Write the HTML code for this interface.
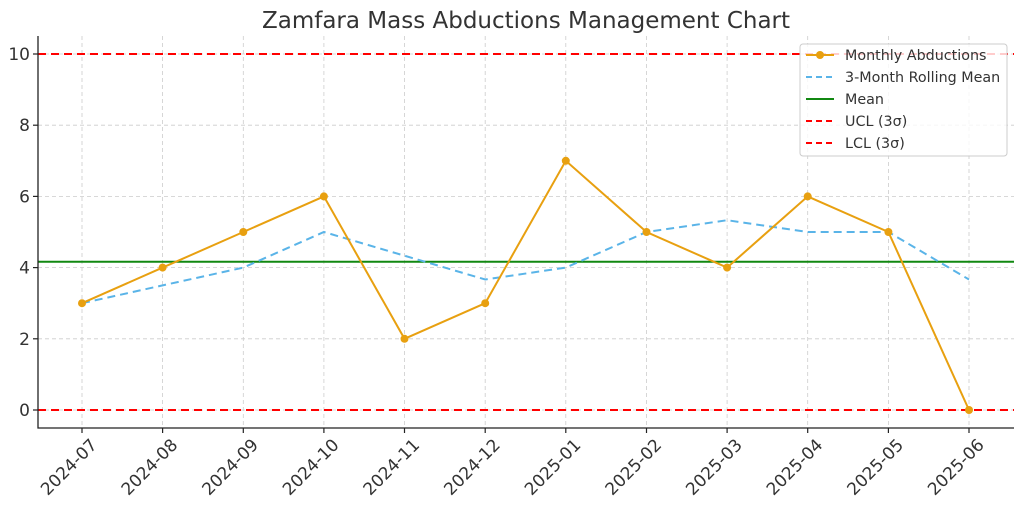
<!DOCTYPE html><html><head><style>body{margin:0;background:#fff}svg{display:block}</style></head><body>
<svg width="1024" height="507" xmlns="http://www.w3.org/2000/svg" font-family="'DejaVu Sans','Liberation Sans',sans-serif" fill="#333">
<text x="526" y="28" font-size="23" text-anchor="middle">Zamfara Mass Abductions Management Chart</text>
<g stroke="#ccc" stroke-width="0.8" stroke-dasharray="4,3">
<line x1="82" y1="36" x2="82" y2="428"/><line x1="162.6" y1="36" x2="162.6" y2="428"/><line x1="243.3" y1="36" x2="243.3" y2="428"/><line x1="323.9" y1="36" x2="323.9" y2="428"/><line x1="404.5" y1="36" x2="404.5" y2="428"/><line x1="485.2" y1="36" x2="485.2" y2="428"/><line x1="565.8" y1="36" x2="565.8" y2="428"/><line x1="646.5" y1="36" x2="646.5" y2="428"/><line x1="727.1" y1="36" x2="727.1" y2="428"/><line x1="807.7" y1="36" x2="807.7" y2="428"/><line x1="888.4" y1="36" x2="888.4" y2="428"/><line x1="969" y1="36" x2="969" y2="428"/>
<line x1="38" y1="410" x2="1014" y2="410"/><line x1="38" y1="338.8" x2="1014" y2="338.8"/><line x1="38" y1="267.6" x2="1014" y2="267.6"/><line x1="38" y1="196.4" x2="1014" y2="196.4"/><line x1="38" y1="125.2" x2="1014" y2="125.2"/><line x1="38" y1="54" x2="1014" y2="54"/>
</g>
<line x1="38" y1="261.7" x2="1014" y2="261.7" stroke="#118811" stroke-width="2"/>
<line x1="38" y1="54" x2="1014" y2="54" stroke="#f00" stroke-width="2" stroke-dasharray="8,5"/>
<line x1="38" y1="410" x2="1014" y2="410" stroke="#f00" stroke-width="2" stroke-dasharray="8,5"/>
<polyline fill="none" stroke="#5ab4e8" stroke-width="2" stroke-dasharray="8,5" points="82,303.2 162.6,285.4 243.3,267.6 323.9,232 404.5,255.7 485.2,279.5 565.8,267.6 646.5,232 727.1,220.2 807.7,232 888.4,232 969,279.5"/>
<polyline fill="none" stroke="#e8a010" stroke-width="2" points="82,303.2 162.6,267.6 243.3,232 323.9,196.4 404.5,338.8 485.2,303.2 565.8,160.8 646.5,232 727.1,267.6 807.7,196.4 888.4,232 969,410"/>
<g fill="#e8a010"><circle cx="82" cy="303.2" r="4"/><circle cx="162.6" cy="267.6" r="4"/><circle cx="243.3" cy="232" r="4"/><circle cx="323.9" cy="196.4" r="4"/><circle cx="404.5" cy="338.8" r="4"/><circle cx="485.2" cy="303.2" r="4"/><circle cx="565.8" cy="160.8" r="4"/><circle cx="646.5" cy="232" r="4"/><circle cx="727.1" cy="267.6" r="4"/><circle cx="807.7" cy="196.4" r="4"/><circle cx="888.4" cy="232" r="4"/><circle cx="969" cy="410" r="4"/></g>
<path d="M38,36 V428 H1014" fill="none" stroke="#222" stroke-width="1.3"/>
<g stroke="#222" stroke-width="1.2">
<line x1="33" y1="410" x2="38" y2="410"/><line x1="33" y1="338.8" x2="38" y2="338.8"/><line x1="33" y1="267.6" x2="38" y2="267.6"/><line x1="33" y1="196.4" x2="38" y2="196.4"/><line x1="33" y1="125.2" x2="38" y2="125.2"/><line x1="33" y1="54" x2="38" y2="54"/>
<line x1="82" y1="428" x2="82" y2="433"/><line x1="162.6" y1="428" x2="162.6" y2="433"/><line x1="243.3" y1="428" x2="243.3" y2="433"/><line x1="323.9" y1="428" x2="323.9" y2="433"/><line x1="404.5" y1="428" x2="404.5" y2="433"/><line x1="485.2" y1="428" x2="485.2" y2="433"/><line x1="565.8" y1="428" x2="565.8" y2="433"/><line x1="646.5" y1="428" x2="646.5" y2="433"/><line x1="727.1" y1="428" x2="727.1" y2="433"/><line x1="807.7" y1="428" x2="807.7" y2="433"/><line x1="888.4" y1="428" x2="888.4" y2="433"/><line x1="969" y1="428" x2="969" y2="433"/>
</g>
<g font-size="17" text-anchor="end">
<text x="30" y="416">0</text><text x="30" y="344.8">2</text><text x="30" y="273.6">4</text><text x="30" y="202.4">6</text><text x="30" y="131.2">8</text><text x="30" y="60">10</text>
</g>
<g font-size="17" text-anchor="end">
<text transform="translate(98,446) rotate(-45)">2024-07</text><text transform="translate(178.6,446) rotate(-45)">2024-08</text><text transform="translate(259.3,446) rotate(-45)">2024-09</text><text transform="translate(339.9,446) rotate(-45)">2024-10</text><text transform="translate(420.5,446) rotate(-45)">2024-11</text><text transform="translate(501.2,446) rotate(-45)">2024-12</text><text transform="translate(581.8,446) rotate(-45)">2025-01</text><text transform="translate(662.5,446) rotate(-45)">2025-02</text><text transform="translate(743.1,446) rotate(-45)">2025-03</text><text transform="translate(823.7,446) rotate(-45)">2025-04</text><text transform="translate(904.4,446) rotate(-45)">2025-05</text><text transform="translate(985,446) rotate(-45)">2025-06</text>
</g>
<rect x="800" y="44" width="207" height="112" rx="3" fill="#fff" fill-opacity="0.8" stroke="#ccc"/>
<line x1="806" y1="55" x2="834" y2="55" stroke="#e8a010" stroke-width="2"/><circle cx="820" cy="55" r="4" fill="#e8a010"/>
<line x1="806" y1="77" x2="834" y2="77" stroke="#5ab4e8" stroke-width="2" stroke-dasharray="6,4"/>
<line x1="806" y1="99" x2="834" y2="99" stroke="#118811" stroke-width="2"/>
<line x1="806" y1="121" x2="834" y2="121" stroke="#f00" stroke-width="2" stroke-dasharray="6,4"/>
<line x1="806" y1="143" x2="834" y2="143" stroke="#f00" stroke-width="2" stroke-dasharray="6,4"/>
<g font-size="14.3"><text x="845" y="60">Monthly Abductions</text><text x="845" y="82">3-Month Rolling Mean</text><text x="845" y="104">Mean</text><text x="845" y="126">UCL (3σ)</text><text x="845" y="148">LCL (3σ)</text></g>
</svg></body></html>
